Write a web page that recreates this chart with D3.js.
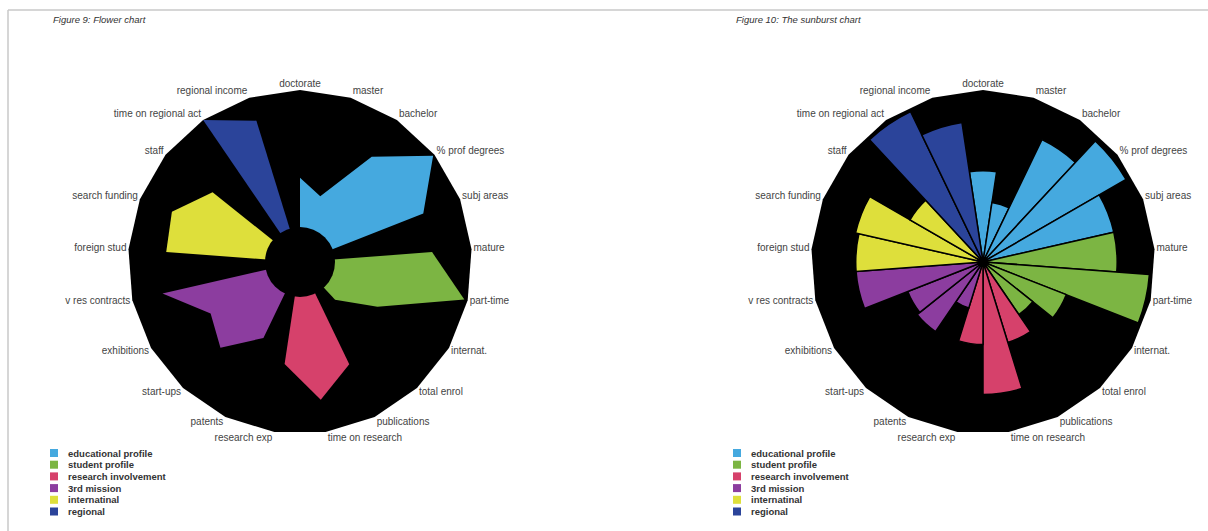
<!DOCTYPE html>
<html>
<head>
<meta charset="utf-8">
<title>Flower chart and sunburst chart</title>
<script src="https://d3js.org/d3.v7.min.js"></script>
<style>
  body { margin: 0; background: #fff; }
  svg { display: block; font-family: "Liberation Sans", Arial, sans-serif; }
</style>
</head>
<body>
<svg width="1208" height="531"></svg>
<script>
// axes, clockwise from the top
const axes = ['doctorate', 'master', 'bachelor', '% prof degrees', 'subj areas',
  'mature', 'part-time', 'internat.', 'total enrol',
  'publications', 'time on research', 'research exp',
  'patents', 'start-ups', 'exhibitions', 'v res contracts',
  'foreign stud', 'search funding', 'staff',
  'time on regional act', 'regional income'];

const groups = ['educational profile', 'student profile', 'research involvement',
  '3rd mission', 'internatinal', 'regional'];
const groupOf = [0, 0, 0, 0, 0, 1, 1, 1, 1, 2, 2, 2, 3, 3, 3, 3, 4, 4, 4, 5, 5];
const groupColors = ['#45a9df', '#7cb543', '#d6416b', '#8c3d9f', '#dedf3b', '#2b449a'];

// values 0-100
const flowerValues = [49, 40, 74, 99, 77, 77, 98, 52, 30, 66, 81, 60, 49, 68, 60, 82, 78, 80, 65, 100, 86];
const sunburstValues = [53, 35, 79, 96, 78, 78, 97, 52, 37, 49, 77, 48, 28, 49, 47, 74, 74, 76, 49, 97, 82];

const titles = ['Figure 9: Flower chart', 'Figure 10: The sunburst chart'];

const svg = d3.select('svg');
const R = 172;
const cy = 262;
const step = 2 * Math.PI / axes.length;
const angle = i => i * step;
const rScale = d3.scaleLinear().domain([0, 100]).range([0, R]);

// frame
svg.append('line').attr('x1', 8).attr('x2', 1208).attr('y1', 10).attr('y2', 10)
  .attr('stroke', '#c9c9c9').attr('stroke-width', 1.5);
svg.append('line').attr('x1', 8).attr('x2', 8).attr('y1', 10).attr('y2', 531)
  .attr('stroke', '#c9c9c9').attr('stroke-width', 1.5);

const drawPanel = (cx, left, title, drawMarks) => {
  const g = svg.append('g').attr('transform', `translate(${cx},${cy})`);

  // black 21-gon background
  g.append('path')
    .attr('d', d3.lineRadial().angle((d, i) => angle(i)).radius(R)
      .curve(d3.curveLinearClosed)(axes))
    .attr('fill', '#000');

  drawMarks(g);

  // axis labels
  g.selectAll('text.axis').data(axes).enter().append('text')
    .attr('class', 'axis')
    .attr('x', (d, i) => {
      const s = Math.sin(angle(i));
      return Math.abs(s) < 0.05 ? 0 : R * s + (s > 0 ? 2 : -2);
    })
    .attr('y', (d, i) => -(R + 6) * Math.cos(angle(i)) - 1)
    .attr('text-anchor', (d, i) => {
      const s = Math.sin(angle(i));
      return Math.abs(s) < 0.05 ? 'middle' : (s > 0 ? 'start' : 'end');
    })
    .attr('dominant-baseline', 'central')
    .attr('font-size', 10)
    .attr('fill', '#444')
    .text(d => d);

  // title
  svg.append('text')
    .attr('x', left + 3).attr('y', 19)
    .attr('dominant-baseline', 'central')
    .attr('font-size', 9.5)
    .attr('font-style', 'italic')
    .attr('fill', '#333')
    .text(title);

  // legend
  const lg = svg.append('g').attr('transform', `translate(${left},449)`);
  const row = lg.selectAll('g').data(groups).enter().append('g')
    .attr('transform', (d, i) => `translate(0,${i * 11.7})`);
  row.append('rect').attr('width', 8).attr('height', 8)
    .attr('fill', (d, i) => groupColors[i]);
  row.append('text').attr('x', 18).attr('y', 4)
    .attr('dominant-baseline', 'central')
    .attr('font-size', 9.5).attr('font-weight', 'bold')
    .attr('fill', '#333')
    .text(d => d);
};

// flower chart: one petal polygon per group
drawPanel(300, 50, titles[0], g => {
  const radial = d3.lineRadial()
    .angle(d => d.a).radius(d => rScale(d.v))
    .curve(d3.curveLinearClosed);
  groups.forEach((grp, gi) => {
    const idx = axes.map((a, i) => i).filter(i => groupOf[i] === gi);
    const pts = [{ a: angle(idx[0]), v: 0 }]
      .concat(idx.map(i => ({ a: angle(i), v: flowerValues[i] })))
      .concat([{ a: angle(idx[idx.length - 1]), v: 0 }]);
    g.append('path').attr('d', radial(pts)).attr('fill', groupColors[gi]);
  });
  g.append('circle').attr('r', 35).attr('fill', '#000');
});

// sunburst chart: one wedge per axis
drawPanel(983, 733, titles[1], g => {
  const arc = d3.arc().innerRadius(0);
  g.selectAll('path.wedge').data(sunburstValues).enter().append('path')
    .attr('class', 'wedge')
    .attr('d', (v, i) => arc({
      outerRadius: rScale(v),
      startAngle: angle(i) - step / 2,
      endAngle: angle(i) + step / 2
    }))
    .attr('fill', (v, i) => groupColors[groupOf[i]])
    .attr('stroke', '#000')
    .attr('stroke-width', 1.5);
  g.append('circle').attr('r', 5).attr('fill', '#000');
});
</script>
</body>
</html>
